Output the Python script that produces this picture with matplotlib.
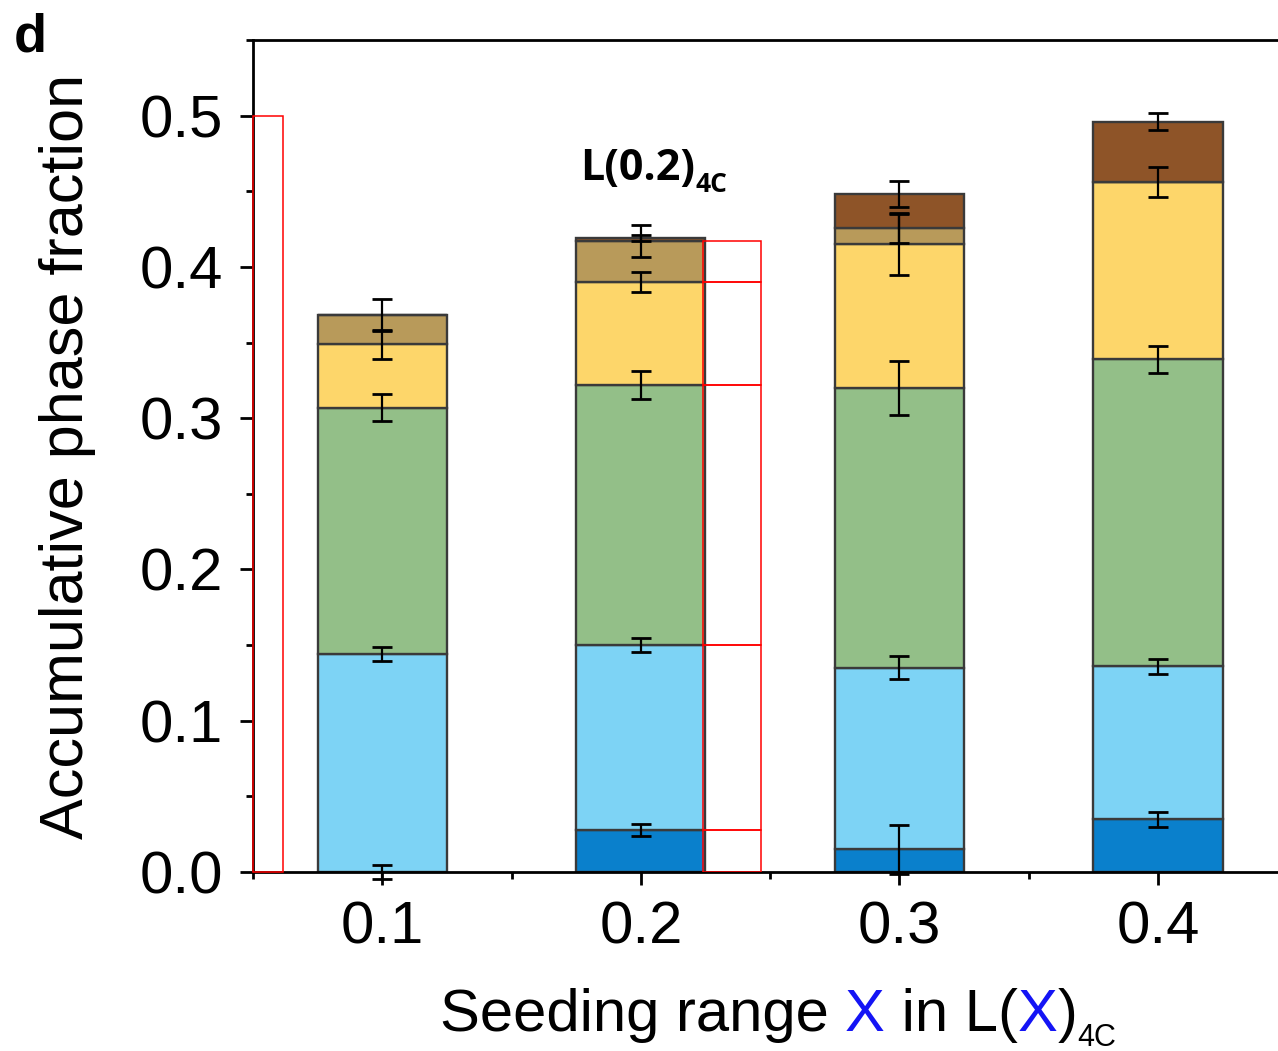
import matplotlib
matplotlib.use("Agg")
import matplotlib.pyplot as plt
import numpy as np
from matplotlib.ticker import MultipleLocator, FixedLocator

# Seeding range X of L(X)_4C
seeding = [0.1, 0.2, 0.3, 0.4]

# Phase fractions per layer (stacked bottom to top)
dark_blue = [0.000, 0.028, 0.015, 0.035]
light_blue = [0.144, 0.122, 0.120, 0.101]
green = [0.163, 0.172, 0.185, 0.203]
yellow = [0.042, 0.068, 0.095, 0.117]
tan = [0.019, 0.027, 0.011, 0.000]
brown = [0.000, 0.002, 0.022, 0.040]

# Error of the accumulated fraction at the top of each layer
err_dark_blue = [0.0045, 0.004, 0.016, 0.005]
err_light_blue = [0.0046, 0.0046, 0.0076, 0.005]
err_green = [0.009, 0.009, 0.018, 0.009]
err_yellow = [0.0096, 0.0066, 0.020, 0.0099]
err_tan = [0.0106, 0.0105, 0.0099, 0.0]
err_brown = [0.0, 0.002, 0.0086, 0.0056]

layers = [dark_blue, light_blue, green, yellow, tan, brown]
errors = [err_dark_blue, err_light_blue, err_green, err_yellow, err_tan, err_brown]
colors = ["#0A80CC", "#7DD3F5", "#93BF88", "#FDD66A", "#B89A5A", "#8E5428"]

# Highlight boxes
box_left_x = [0.0558]
box_left_w = [0.0116]
box_left_h = [0.5]
box_side_x = 0.2353
box_side_w = 0.0225
box_side_idx = 1  # boxes follow the layers of the L(0.2) bar

bar_width = 0.05

plt.rcParams["font.family"] = ["Liberation Sans", "DejaVu Sans"]

fig = plt.figure(figsize=(12.78, 10.51), dpi=100)
ax = fig.add_axes([0.198, 0.1703, 0.8092, 0.7916])

x = np.array(seeding)
bottom = np.zeros(len(x))
tops = []
for vals, col in zip(layers, colors):
    v = np.array(vals)
    ax.bar(x, v, bar_width, bottom=bottom, color=col, edgecolor="#3a3a3a",
           linewidth=1.7, zorder=2)
    bottom = bottom + v
    tops.append(bottom.copy())

for top, err in zip(tops, errors):
    e = np.array(err)
    m = e > 0
    ax.errorbar(x[m], top[m], yerr=e[m], fmt="none", ecolor="black",
                elinewidth=1.6, capsize=7, capthick=2.0, zorder=4, clip_on=False)

# red outline boxes
ax.bar(box_left_x, box_left_h, box_left_w, bottom=0, fill=False,
       edgecolor="red", linewidth=1.1, zorder=5, clip_on=False)
prev = 0.0
for top in tops:
    t = top[box_side_idx]
    if t - prev > 0.005:
        ax.bar([box_side_x], [t - prev], box_side_w, bottom=prev, fill=False,
               edgecolor="red", linewidth=1.1, zorder=5)
        prev = t

ax.set_xlim(0.05, 0.45)
ax.set_ylim(0, 0.55)
ax.set_xticks(seeding)
ax.set_xticklabels([f"{s:.1f}" for s in seeding])
ax.set_yticks([0.0, 0.1, 0.2, 0.3, 0.4, 0.5])
ax.set_yticklabels(["0.0", "0.1", "0.2", "0.3", "0.4", "0.5"])
ax.xaxis.set_minor_locator(FixedLocator([0.05, 0.15, 0.25, 0.35]))
ax.yaxis.set_minor_locator(MultipleLocator(0.05))
ax.tick_params(axis="both", which="major", direction="out", length=9.5,
               width=2.0, labelsize=43, top=False, right=False)
ax.tick_params(axis="y", which="major", pad=12)
ax.tick_params(axis="x", which="major", pad=11)
ax.tick_params(axis="both", which="minor", direction="out", length=5,
               width=2.0, top=False, right=False)
for sp in ax.spines.values():
    sp.set_linewidth(2.0)

ax.set_ylabel("Accumulative phase fraction", fontsize=44)
ax.yaxis.set_label_coords(-0.152, 0.5)

# x label with coloured X
fs = 43
prev_t = fig.text(0.344, 0.019, "Seeding range ", fontsize=fs, va="baseline", ha="left")
pieces = [("X", "#1414F5"), (" in L(", "black"), ("X", "#1414F5"), (")", "black")]
for s, c in pieces:
    prev_t = ax.annotate(s, xy=(1, 0), xycoords=prev_t, va="bottom", ha="left",
                         fontsize=fs, color=c, annotation_clip=False)
ax.annotate("4C", xy=(1, 0), xycoords=prev_t, xytext=(0, -7.5),
            textcoords="offset points", va="bottom", ha="left", fontsize=22,
            annotation_clip=False)

# in-plot label
lbl = ax.annotate("L(0.2)", xy=(580 / 1278, 1 - 180 / 1051), xycoords="figure fraction",
                  va="baseline", ha="left", fontsize=31, fontweight="bold",
                  family=["Open Sans", "DejaVu Sans"], annotation_clip=False)
ax.annotate("4C", xy=(1, 0), xycoords=lbl, xytext=(0, -6),
            textcoords="offset points", va="bottom", ha="left", fontsize=19,
            fontweight="bold", family=["Open Sans", "DejaVu Sans"],
            annotation_clip=False)

fig.text(0.011, 0.988, "d", fontsize=39, fontweight="bold", va="top", ha="left")

fig.savefig("out.png", dpi=100)
